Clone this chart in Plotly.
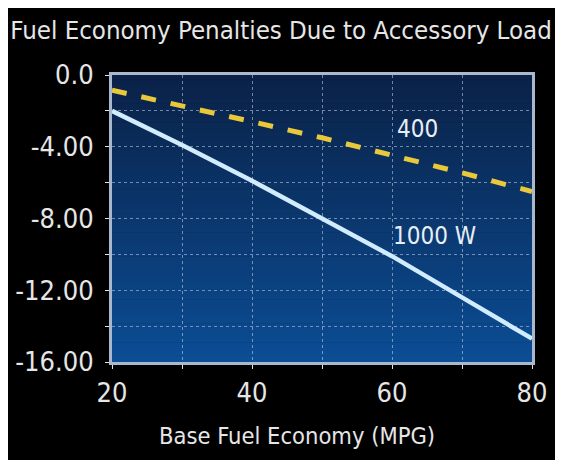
import plotly.graph_objects as go

# base fuel economy (MPG)
mpg = [20, 30, 40, 50, 60, 70, 80]
# penalty (MPG) for each accessory load
pen_400 = [-0.85, -1.7, -2.6, -3.5, -4.45, -5.45, -6.5]
pen_1000 = [-2.0, -3.9, -5.9, -8.0, -10.1, -12.4, -14.7]

ytick_vals = [0, -4, -8, -12, -16]
ytick_text = ["0.0", "-4.00", "-8.00", "-12.00", "-16.00"]
xtick_vals = [20, 40, 60, 80]

font = "DejaVu Sans Condensed"
txt = '#e6e6e6'

fig = go.Figure()

# gradient background of the plot area, built from thin bands
n = 60
top = (10, 34, 72)
bot = (12, 77, 148)
for i in range(n):
    t = i / (n - 1)
    c = tuple(int(top[k] + (bot[k] - top[k]) * t) for k in range(3))
    fig.add_shape(type="rect", xref="paper", yref="paper",
                  x0=0, x1=1, y0=1 - (i + 1) / n, y1=1 - i / n + 0.002,
                  fillcolor="rgb(%d,%d,%d)" % c, line=dict(width=0), layer="below")

fig.add_trace(go.Scatter(x=mpg, y=pen_1000, mode='lines', name='1000 W',
                         line=dict(color='#d2ecff', width=4.5)))
fig.add_trace(go.Scatter(x=mpg, y=pen_400, mode='lines', name='400',
                         line=dict(color='#e9c93a', width=5, dash='dash')))

fig.add_annotation(x=63.6, y=-3.0, text="400", showarrow=False,
                   font=dict(family=font, size=24, color='#e8eef6'))
fig.add_annotation(x=66.0, y=-8.95, text="1000 W", showarrow=False,
                   font=dict(family=font, size=24, color='#e8eef6'))

# x axis title sits left of the plot centre in the original
fig.add_annotation(xref='paper', yref='paper', x=0.44, y=-0.258,
                   xanchor='center', yanchor='middle', showarrow=False,
                   text="Base Fuel Economy (MPG)",
                   font=dict(family=font, size=23.5, color=txt))

fig.update_layout(
    width=555, height=452,
    margin=dict(l=104, r=31, t=67, b=98),
    paper_bgcolor='black',
    plot_bgcolor='rgba(0,0,0,0)',
    showlegend=False,
    title=dict(text="Fuel Economy Penalties Due to Accessory Load",
               x=0.492, xanchor='center', y=0.951, yanchor='middle',
               font=dict(family=font, size=25.6, color=txt)),
    font=dict(family=font, size=27, color=txt),
)
fig.update_xaxes(range=[20, 80], tickvals=xtick_vals, ticks='outside', ticklen=4,
                 tickcolor='#dde6f0', ticklabelstandoff=1, automargin=False,
                 showgrid=False, zeroline=False,
                 minor=dict(dtick=10, tick0=0, showgrid=True, gridcolor='rgba(200,215,235,0.55)',
                            griddash='dot', gridwidth=1, ticks='outside', ticklen=4,
                            tickcolor='#dde6f0'),
                 showline=True, mirror=True, linecolor='#a9b8cc', linewidth=3)
fig.update_yaxes(range=[-16, 0], tickvals=ytick_vals, ticktext=ytick_text,
                 ticks='outside', ticklen=4, tickcolor='#dde6f0', ticklabelstandoff=6,
                 automargin=False,
                 showgrid=False, zeroline=False,
                 minor=dict(dtick=2, tick0=0, showgrid=True, gridcolor='rgba(200,215,235,0.55)',
                            griddash='dot', gridwidth=1, ticks='outside', ticklen=4,
                            tickcolor='#dde6f0'),
                 showline=True, mirror=True, linecolor='#a9b8cc', linewidth=3)

fig.write_html("out.html")
